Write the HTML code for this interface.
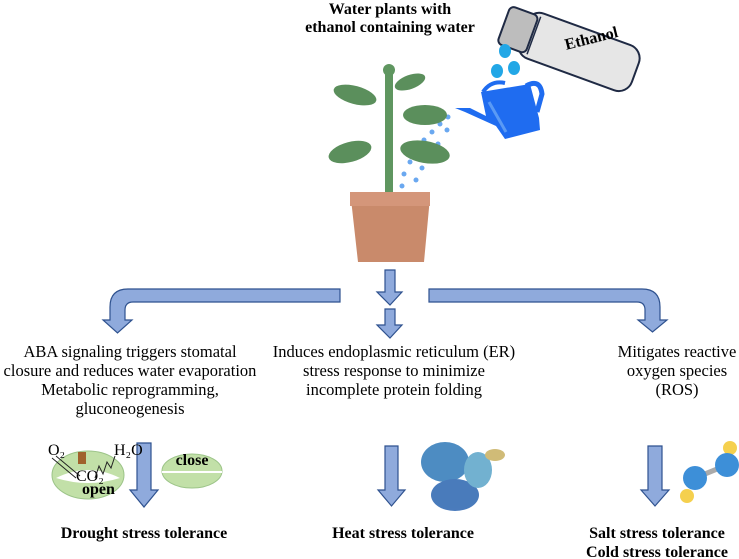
<!DOCTYPE html>
<html><head><meta charset="utf-8"><style>
body{margin:0;background:#fff;width:739px;height:559px;overflow:hidden}
svg{display:block}
text{font-family:"Liberation Serif",serif;font-size:16px;fill:#000}
.m{font-size:16.5px}
.b{font-weight:bold}
</style></head><body>
<svg width="739" height="559" viewBox="0 0 739 559">
<text x="390" y="14" text-anchor="middle" class="b">Water plants with</text>
<text x="390" y="32" text-anchor="middle" class="b">ethanol containing water</text>
<!-- bottle -->
<g transform="translate(512,2) rotate(20)">
<rect x="20" y="0" width="120" height="48" rx="14" fill="#e6e6e6" stroke="#1f2a44" stroke-width="2"/>
<rect x="0" y="4" width="30" height="40" rx="5" fill="#bdbdbd" stroke="#1f2a44" stroke-width="2"/>
<line x1="32" y1="4" x2="32" y2="44" stroke="#1f2a44" stroke-width="1.5"/>
</g>
<text x="565" y="50" class="b" font-size="16" transform="rotate(-14 565 45)">Ethanol</text>
<!-- drops -->
<ellipse cx="505" cy="51" rx="6" ry="7" fill="#22a7e6"/>
<ellipse cx="497" cy="71" rx="6" ry="7" fill="#22a7e6"/>
<ellipse cx="514" cy="68" rx="6" ry="7" fill="#22a7e6"/>
<!-- watering can -->
<path d="M481 92 L530 84 L539 118 L540 130 L505 139 L496 126 L465 112 L455 108 L470 108 L486 116 Z" fill="#1f6cf0"/>
<path d="M526 86 q14 -8 16 8 l-5 18" fill="none" stroke="#1f6cf0" stroke-width="5"/>
<path d="M483 92 q8 -12 22 -9" fill="none" stroke="#1f6cf0" stroke-width="4"/>
<line x1="489" y1="102" x2="506" y2="132" stroke="#5a9af5" stroke-width="3"/>
<!-- water drops from can -->
<g fill="#6aa8f0">
<circle cx="448" cy="117" r="2.5"/><circle cx="440" cy="124" r="2.5"/><circle cx="432" cy="132" r="2.5"/><circle cx="447" cy="130" r="2.5"/><circle cx="424" cy="140" r="2.5"/><circle cx="438" cy="144" r="2.5"/><circle cx="414" cy="148" r="2.5"/><circle cx="428" cy="154" r="2.5"/><circle cx="410" cy="162" r="2.5"/><circle cx="422" cy="168" r="2.5"/><circle cx="404" cy="174" r="2.5"/><circle cx="416" cy="180" r="2.5"/><circle cx="402" cy="186" r="2.5"/>
</g>
<!-- plant -->
<rect x="385" y="72" width="8" height="122" fill="#5f9660"/>
<circle cx="389" cy="70" r="6" fill="#5f9660"/>
<g fill="#5b8f5c">
<ellipse cx="355" cy="95" rx="22" ry="9" transform="rotate(15 355 95)"/>
<ellipse cx="410" cy="82" rx="16" ry="7" transform="rotate(-20 410 82)"/>
<ellipse cx="425" cy="115" rx="22" ry="10"/>
<ellipse cx="350" cy="152" rx="22" ry="10" transform="rotate(-15 350 152)"/>
<ellipse cx="425" cy="152" rx="25" ry="11" transform="rotate(10 425 152)"/>
</g>
<!-- pot -->
<path d="M350 192 L430 192 L429 208 L424 262 L358 262 L352 208 Z" fill="#c98a6b"/>
<rect x="350" y="192" width="80" height="14" fill="#d4967a"/>
<!-- arrows -->
<g fill="#8faadc" stroke="#2f528f" stroke-width="1.2">
<path d="M340 289 L128 289 Q110 289 110 307 L110 320 L103 320 L117.5 333 L132 320 L125 320 L125 310 Q125 302 133 302 L340 302 Z"/>
<path d="M429 289 L642 289 Q660 289 660 307 L660 320 L667 320 L652.5 332 L638 320 L645 320 L645 310 Q645 302 637 302 L429 302 Z"/>
<path d="M385 270 L395 270 L395 292 L402 292 L390 305 L377 292 L385 292 Z"/>
<path d="M385 309 L395 309 L395 325 L402 325 L390 338 L377 325 L385 325 Z"/>
<path d="M137 443 L151 443 L151 490 L158 490 L144 507 L130 490 L137 490 Z"/>
<path d="M385 446 L398 446 L398 490 L405 490 L391.5 506 L378 490 L385 490 Z"/>
<path d="M648 446 L662 446 L662 490 L669 490 L655 506 L641 490 L648 490 Z"/>
</g>
<!-- middle texts -->
<g text-anchor="middle">
<text class="m" x="130" y="357">ABA signaling triggers stomatal</text>
<text class="m" x="130" y="376">closure and reduces water evaporation</text>
<text class="m" x="130" y="395">Metabolic reprogramming,</text>
<text class="m" x="130" y="414">gluconeogenesis</text>
<text class="m" x="394" y="357">Induces endoplasmic reticulum (ER)</text>
<text class="m" x="394" y="376">stress response to minimize</text>
<text class="m" x="394" y="395">incomplete protein folding</text>
<text class="m" x="677" y="357">Mitigates reactive</text>
<text class="m" x="677" y="376">oxygen species</text>
<text class="m" x="677" y="395">(ROS)</text>
<text x="144" y="538" class="b">Drought stress tolerance</text>
<text x="403" y="538" class="b">Heat stress tolerance</text>
<text x="657" y="538" class="b">Salt stress tolerance</text>
<text x="657" y="557" class="b">Cold stress tolerance</text>
</g>
<!-- stomata -->
<ellipse cx="88" cy="475" rx="36" ry="24" fill="#c2e0a8" stroke="#9cc488"/>
<path d="M56 478 Q88 462 120 478 Q88 488 56 478 Z" fill="#fff"/>
<text x="82" y="494" font-size="7" font-family="Liberation Sans" font-weight="bold" fill="#333">open</text>
<text x="76" y="481" font-size="7" font-family="Liberation Sans">CO₂</text>
<text x="48" y="455" font-size="7" font-family="Liberation Sans">O₂</text>
<text x="114" y="455" font-size="7" font-family="Liberation Sans">H₂O</text>
<line x1="52" y1="458" x2="76" y2="478" stroke="#222"/>
<line x1="56" y1="456" x2="80" y2="476" stroke="#222"/>
<rect x="78" y="452" width="8" height="12" fill="#a0622c"/>
<path d="M95 478 l4 -12 l4 8 l4 -12 l4 6 l4 -12" fill="none" stroke="#222"/>
<ellipse cx="192" cy="471" rx="30" ry="17" fill="#c2e0a8" stroke="#9cc488"/>
<line x1="162" y1="472" x2="222" y2="472" stroke="#fff" stroke-width="2"/>
<text x="192" y="465" font-size="7" text-anchor="middle" font-family="Liberation Sans" font-weight="bold" fill="#333">close</text>
<!-- protein -->
<g opacity="0.85">
<ellipse cx="445" cy="462" rx="24" ry="20" fill="#2f78b8"/>
<ellipse cx="455" cy="495" rx="24" ry="16" fill="#2a64b0"/>
<ellipse cx="478" cy="470" rx="14" ry="18" fill="#5aa4c8"/>
<ellipse cx="495" cy="455" rx="10" ry="6" fill="#c8b060"/>
</g>
<!-- molecule -->
<line x1="695" y1="478" x2="727" y2="465" stroke="#aaa" stroke-width="5"/>
<circle cx="730" cy="448" r="7" fill="#f5d04e"/>
<circle cx="687" cy="496" r="7" fill="#f5d04e"/>
<circle cx="727" cy="465" r="12" fill="#3d8fd8"/>
<circle cx="695" cy="478" r="12" fill="#3d8fd8"/>
</svg>
</body></html>
